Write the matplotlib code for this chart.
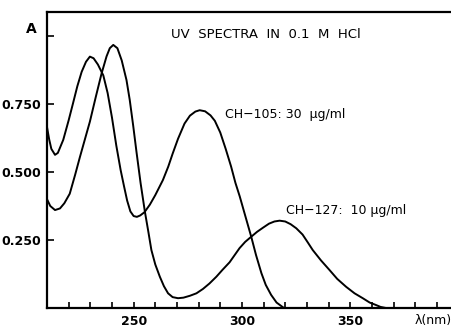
import matplotlib
matplotlib.use("Agg")
from matplotlib import pyplot as plt

plt.rcParams['font.family'] = ['Liberation Sans Narrow', 'DejaVu Sans']

# CH-105 : 30 ug/ml
wl_105 = [210, 211, 212, 213.7, 215, 217.5, 220, 222, 224, 226, 228, 229.8,
          231.5, 233.5, 236, 238, 240, 242, 244, 245.5, 247, 248.5, 250,
          251.5, 253, 255, 257.5, 260, 263.5, 266, 268, 270.5, 273.5, 276,
          278.5, 280.5, 283, 285.5, 287.5, 290, 292.5, 295, 297, 299, 301.5,
          304.3, 306.5, 309, 311, 313.5, 316, 318.9]
abs_105 = [0.665, 0.62, 0.585, 0.563, 0.57, 0.618, 0.69, 0.752, 0.815, 0.868,
           0.905, 0.924, 0.918, 0.895, 0.855, 0.79, 0.70, 0.597, 0.507, 0.45,
           0.395, 0.355, 0.338, 0.335, 0.34, 0.352, 0.38, 0.415, 0.47, 0.52,
           0.567, 0.622, 0.678, 0.707, 0.722, 0.727, 0.723, 0.708, 0.688,
           0.645, 0.585, 0.52, 0.46, 0.41, 0.34, 0.262, 0.195, 0.128, 0.085,
           0.048, 0.02, 0.003]

# CH-127 : 10 ug/ml
wl_127 = [210, 211.5, 213.7, 216, 218, 220.5, 223, 225.2, 227.5, 229.8, 232.5,
          235.2, 237.5, 239, 240.6, 242.5, 244.5, 246.7, 248.2, 249.8, 251.3,
          253.2, 255.2, 256.8, 258.2, 260, 262.1, 264, 265.9, 268, 270.5, 273,
          276, 279, 282, 285, 288.2, 291, 294.3, 298.9, 301.5, 304.3, 307,
          309.7, 312.5, 315, 317.4, 320, 322.5, 325.1, 328, 330.5, 332.7,
          336.5, 340.4, 344, 348.1, 352, 355.8, 359, 361.9, 364, 366.5]
abs_127 = [0.40, 0.375, 0.36, 0.366, 0.385, 0.42, 0.49, 0.555, 0.62, 0.685,
           0.775, 0.862, 0.925, 0.955, 0.967, 0.955, 0.91, 0.838, 0.765, 0.67,
           0.575, 0.46, 0.354, 0.28, 0.213, 0.16, 0.115, 0.08, 0.054, 0.04,
           0.036, 0.038, 0.045, 0.054, 0.07, 0.09, 0.115, 0.14, 0.168, 0.22,
           0.243, 0.262, 0.28, 0.295, 0.31, 0.318, 0.321, 0.318, 0.308, 0.293,
           0.27, 0.24, 0.213, 0.175, 0.14, 0.107, 0.078, 0.054, 0.036, 0.02,
           0.011, 0.004, 0.0]

x_major = [250, 300, 350]
x_minor = [220, 230, 240, 260, 270, 280, 290, 310, 320, 330, 340, 360, 370, 380, 390]
y_ticks = [0.25, 0.5, 0.75, 1.0]
y_labels = ['0.250', '0.500', '0.750', '']

fig = plt.figure(figsize=(4.52, 3.28), dpi=100)
ax = fig.add_axes([47 / 452, 20 / 328, 405 / 452, 296 / 328])

ax.plot(wl_105, abs_105, color='black', lw=1.4)
ax.plot(wl_127, abs_127, color='black', lw=1.4)

ax.set_xlim(210, 397)
ax.set_ylim(0, 1.088)

ax.spines['right'].set_visible(False)
for s in ['left', 'bottom', 'top']:
    ax.spines[s].set_linewidth(1.6)

ax.set_xticks(x_major)
ax.set_xticks(x_minor, minor=True)
ax.set_yticks(y_ticks)
ax.set_yticklabels(y_labels)
ax.tick_params(axis='both', which='both', direction='in', width=1.2,
               labelsize=9)
ax.tick_params(axis='x', which='major', length=4, pad=5)
ax.tick_params(axis='x', which='minor', length=4)
ax.tick_params(axis='y', length=5, pad=4)
for lab in ax.get_xticklabels() + ax.get_yticklabels():
    lab.set_fontweight('bold')

ax.text(0, 1.0, 'A  ', transform=ax.get_yaxis_transform(), ha='right',
        va='bottom', fontsize=10, fontweight='bold')
ax.text(397, -0.022, 'λ(nm)', ha='right', va='top', fontsize=9, clip_on=False)

ax.text(311, 1.007, 'UV  SPECTRA  IN  0.1  M  HCl', ha='center', va='center',
        fontsize=9.5)
ax.text(292, 0.71, 'CH−105: 30  μg/ml', ha='left', va='center', fontsize=9)
ax.text(320.4, 0.36, 'CH−127:  10 μg/ml', ha='left', va='center', fontsize=9)

fig.savefig('out.png', dpi=100)
